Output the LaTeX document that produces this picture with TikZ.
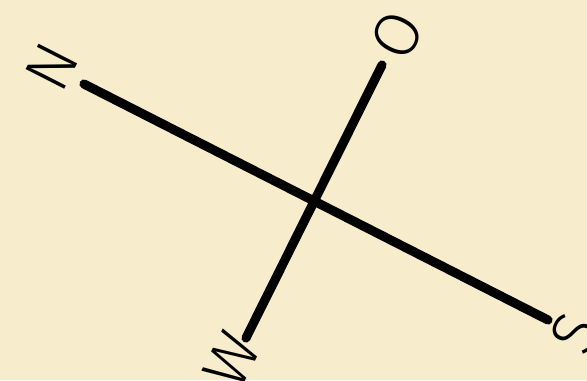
\documentclass[tikz,border=0pt]{standalone}
\usepackage{fontspec}
\setmainfont{Fira Sans}[UprightFont={* Light}]
\usepackage{xcolor}
\usepackage{tikz}
\definecolor{paper}{HTML}{F7EDCC}

\begin{document}
\begin{tikzpicture}[
    axis/.style={line width=2.6pt, line cap=round},
    dirlabel/.style={rotate=63, font=\fontsize{18}{18}\selectfont, inner sep=0pt}
]
    \fill[paper] (0,0) rectangle (5.87,3.80);
    \useasboundingbox (0,0) rectangle (5.87,3.80);

    % ends of the two axes
    \coordinate (nEnd) at (0.84,2.96);
    \coordinate (sEnd) at (5.48,0.60);
    \coordinate (oEnd) at (3.82,3.15);
    \coordinate (wEnd) at (2.46,0.42);

    \draw[axis] (nEnd) -- (sEnd);
    \draw[axis] (oEnd) -- (wEnd);

    % letters
    \node[dirlabel] (north) at (0.52,3.13) {N};
    \node[dirlabel] (east) at (3.97,3.45) {O};
    \node[dirlabel] (south) at (5.75,0.47) {S};
    \node[dirlabel] (west) at (2.32,0.20) {W};
\end{tikzpicture}
\end{document}
